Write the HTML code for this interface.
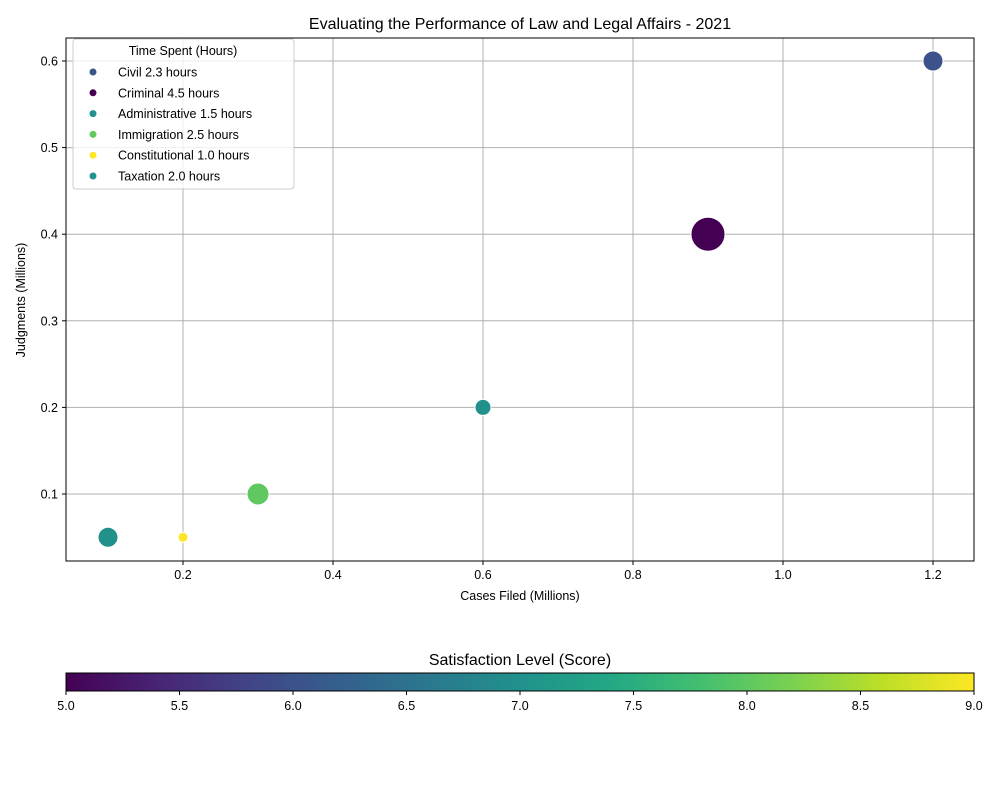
<!DOCTYPE html>
<html><head><meta charset="utf-8"><style>
body{margin:0;background:#fff;font-family:"Liberation Sans",sans-serif}
svg text{font-family:"Liberation Sans",sans-serif;fill:#000}
</style></head><body>
<svg width="1000" height="800" xmlns="http://www.w3.org/2000/svg" id="chart">
<defs><linearGradient id="vir" x1="0" x2="1" y1="0" y2="0">
<stop offset="0" stop-color="#440154"/><stop offset="0.1" stop-color="#482475"/><stop offset="0.2" stop-color="#414487"/><stop offset="0.3" stop-color="#355f8d"/><stop offset="0.4" stop-color="#2a788e"/><stop offset="0.5" stop-color="#21918c"/><stop offset="0.6" stop-color="#22a884"/><stop offset="0.7" stop-color="#44bf70"/><stop offset="0.8" stop-color="#7ad151"/><stop offset="0.9" stop-color="#bddf26"/><stop offset="1" stop-color="#fde725"/>
</linearGradient></defs>
<text x="520" y="29" text-anchor="middle" font-size="16">Evaluating the Performance of Law and Legal Affairs - 2021</text>
<g id="grid"></g><g id="marks"></g>
<rect x="66" y="38" width="908" height="523" fill="none" stroke="#000" stroke-width="1"/>
<g id="axes"></g>
<text x="520" y="600" text-anchor="middle" font-size="12.5">Cases Filed (Millions)</text>
<text transform="translate(25,300) rotate(-90)" text-anchor="middle" font-size="12.5">Judgments (Millions)</text>
<g>
<rect x="73" y="39" width="221" height="150" rx="3" fill="#fff" fill-opacity="0.8" stroke="#ccc"/>
<text x="183" y="55" text-anchor="middle" font-size="12.5">Time Spent (Hours)</text>
<g id="legend-items"></g>
</g>
<text x="520" y="665" text-anchor="middle" font-size="16">Satisfaction Level (Score)</text>
<rect x="66" y="673" width="908" height="18" fill="url(#vir)" stroke="#000"/>
<g id="cbticks"></g>
</svg>
<script>
const categories=["Civil","Criminal","Administrative","Immigration","Constitutional","Taxation"];
const hours=[2.3,4.5,1.5,2.5,1.0,2.0];
const casesFiled=[1.2,0.9,0.6,0.3,0.2,0.1];
const judgments=[0.6,0.4,0.2,0.1,0.05,0.05];
const satisfaction=[6.0,5.0,7.0,8.0,9.0,7.0];
const radii=[10,17,8,11,5,10];
const xTicks=[0.2,0.4,0.6,0.8,1.0,1.2];
const yTicks=[0.1,0.2,0.3,0.4,0.5,0.6];
const cbTicks=[5.0,5.5,6.0,6.5,7.0,7.5,8.0,8.5,9.0];
const NS="http://www.w3.org/2000/svg";
const X=v=>33+750*v, Y=v=>580.6-866*v, C=v=>66+(v-5)/4*908;
const vir=["#440154","#482475","#414487","#355f8d","#2a788e","#21918c","#22a884","#44bf70","#7ad151","#bddf26","#fde725"];
function hex(h){return [1,3,5].map(i=>parseInt(h.substr(i,2),16));}
function cmap(s){let t=Math.max(0,Math.min(1,(s-5)/4))*10,i=Math.min(9,Math.floor(t)),f=t-i,a=hex(vir[i]),b=hex(vir[i+1]);return "rgb("+a.map((v,k)=>Math.round(v+(b[k]-v)*f)).join(",")+")";}
function mk(tag,at,p){const e=document.createElementNS(NS,tag);for(const k in at)e.setAttribute(k,at[k]);p.appendChild(e);return e;}
const grid=document.getElementById('grid'),axes=document.getElementById('axes'),marks=document.getElementById('marks');
xTicks.forEach(t=>{const x=X(t);
const g=mk('line',{x1:x,x2:x,y1:38,y2:561,stroke:'#b0b0b0'},grid);


mk('line',{x1:x,x2:x,y1:561,y2:565,stroke:'#000'},axes);
const l=mk('text',{x:x,y:579,'text-anchor':'middle','font-size':12.5},axes);l.textContent=t.toFixed(1);

});
yTicks.forEach(t=>{const y=Y(t);
const g=mk('line',{x1:66,x2:974,y1:y,y2:y,stroke:'#b0b0b0'},grid);


mk('line',{x1:62,x2:66,y1:y,y2:y,stroke:'#000'},axes);
const l=mk('text',{x:58,y:y+4.5,'text-anchor':'end','font-size':12.5},axes);l.textContent=t.toFixed(1);

});
categories.forEach((c,i)=>{
const b=mk('circle',{cx:X(casesFiled[i]),cy:Y(judgments[i]),r:radii[i],fill:cmap(satisfaction[i]),stroke:'#fff','stroke-width':1},marks);


const li=document.getElementById('legend-items');const y=72+i*20.8;
mk('circle',{cx:93,cy:y,r:3.5,fill:cmap(satisfaction[i])},li);
const t=mk('text',{x:118,y:y+4.5,'font-size':12.5},li);t.textContent=c+" "+hours[i].toFixed(1)+" hours";

});
const cb=document.getElementById('cbticks');
cbTicks.forEach(t=>{const x=C(t);mk('line',{x1:x,x2:x,y1:691,y2:695,stroke:'#000'},cb);
const l=mk('text',{x:x,y:710,'text-anchor':'middle','font-size':12.5},cb);l.textContent=t.toFixed(1);

});
</script>
</body></html>
